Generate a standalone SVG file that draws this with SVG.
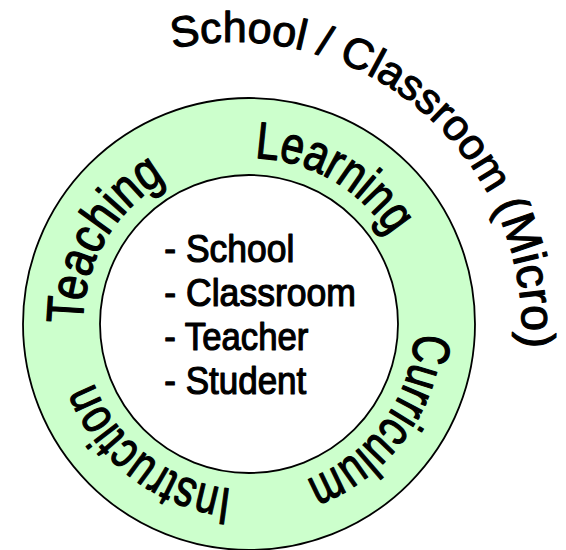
<svg xmlns="http://www.w3.org/2000/svg" xmlns:xlink="http://www.w3.org/1999/xlink" width="566" height="550" viewBox="0 0 566 550">
  <style>
    .t { font-family: "Liberation Sans", Arial, Helvetica, sans-serif; fill: #000; stroke: #000; stroke-linejoin: round; }
    .ring-t { font-size: 52px; stroke-width: 1.3px; }
    .list-t { font-size: 38px; stroke-width: 1.2px; }
    .outer-t { stroke-width: 1.1px; }
  </style>
  <defs>
    <path id="ringPath" d="M 249,158 A 166,166 0 1 1 249,490 A 166,166 0 1 1 249,158"/>
    <path id="outerPath" d="M 173,48.5 A 288,288 0 0 1 517.6,380"/>
  </defs>
  <rect width="566" height="550" fill="#ffffff"/>
  <g id="ring">
    <path d="M 23,324 A 226,226 0 1 1 475,324 A 226,226 0 1 1 23,324 Z M 100,324 A 149,149 0 1 0 398,324 A 149,149 0 1 0 100,324 Z" fill="#ccffcc" fill-rule="evenodd" stroke="#000" stroke-width="1.8"/>
  </g>
  <g id="ring-labels" class="t ring-t">
    <text id="learning"><textPath xlink:href="#ringPath" href="#ringPath" startOffset="5.8" textLength="162" lengthAdjust="spacingAndGlyphs">Learning</textPath></text>
    <text id="curriculum"><textPath xlink:href="#ringPath" href="#ringPath" startOffset="269.7" textLength="194" lengthAdjust="spacingAndGlyphs">Curriculum</textPath></text>
    <text id="instruction"><textPath xlink:href="#ringPath" href="#ringPath" startOffset="538.6" textLength="184" lengthAdjust="spacingAndGlyphs">Instruction</textPath></text>
    <text id="teaching"><textPath xlink:href="#ringPath" href="#ringPath" startOffset="782.2" textLength="174" lengthAdjust="spacingAndGlyphs">Teaching</textPath></text>
  </g>
  <g id="outer-label" class="t outer-t">
    <text><textPath xlink:href="#outerPath" href="#outerPath"><tspan font-size="43">School / </tspan><tspan font-size="43">Classroom </tspan><tspan font-size="47">(Micro)</tspan></textPath></text>
  </g>
  <g id="center-list" class="t list-t">
    <text x="164.3" y="262" textLength="130" lengthAdjust="spacingAndGlyphs">- School</text>
    <text x="164.3" y="306" textLength="191.7" lengthAdjust="spacingAndGlyphs">- Classroom</text>
    <text x="164.3" y="350" textLength="144" lengthAdjust="spacingAndGlyphs">- Teacher</text>
    <text x="164.3" y="394" textLength="142" lengthAdjust="spacingAndGlyphs">- Student</text>
  </g>
</svg>
